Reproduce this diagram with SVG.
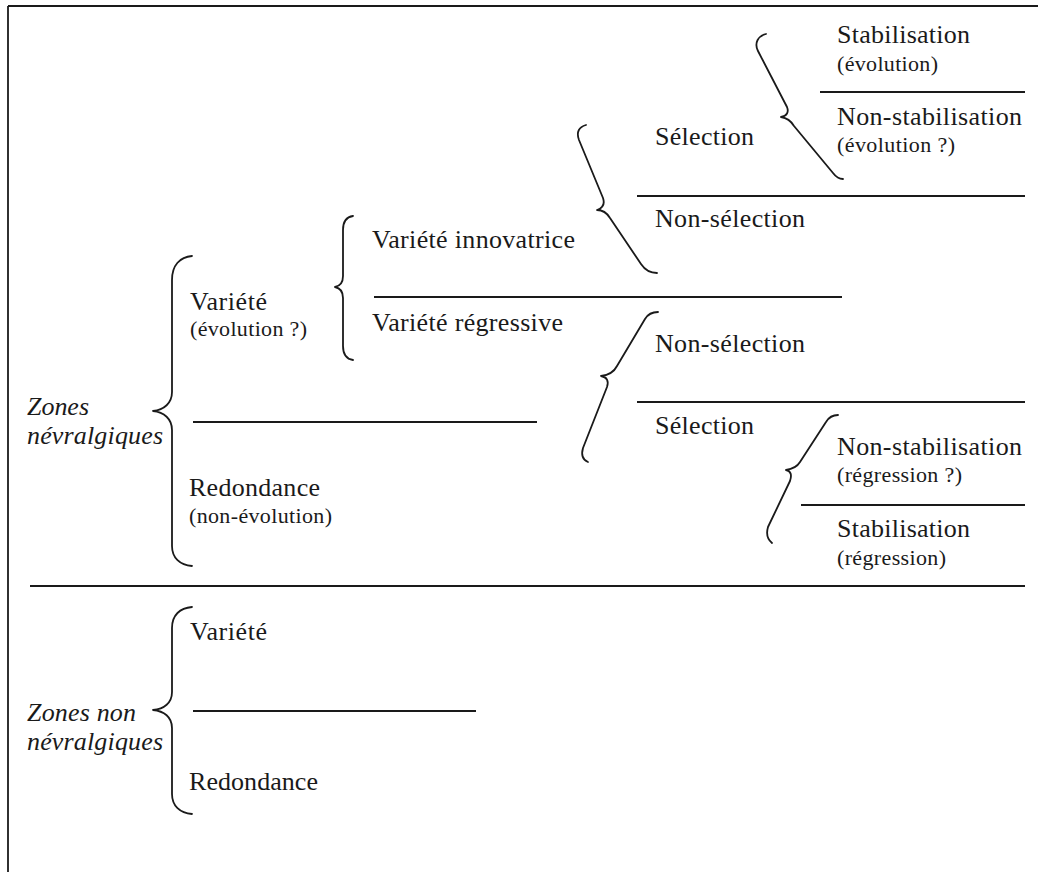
<svg xmlns="http://www.w3.org/2000/svg" width="1038" height="872" viewBox="0 0 1038 872">
<style>
text{font-family:'Liberation Serif','Tinos','Times New Roman','Times','Nimbus Roman','Nimbus Roman No9 L','FreeSerif','Noto Serif','DejaVu Serif',serif;fill:#1a1a1a}
.t{font-size:26px}
.s{font-size:22px}
.i{font-size:26px;font-style:italic}
.ln{stroke:#1a1a1a;stroke-width:1.8;fill:none}
.br{stroke:#1a1a1a;stroke-width:1.8;fill:none;stroke-linecap:round;stroke-linejoin:round}
</style>
<rect width="1038" height="872" fill="#ffffff"/>
<g id="frame">
<line class="ln" x1="8" y1="6" x2="1038" y2="6" stroke-width="2.2"/>
<line class="ln" x1="8" y1="6" x2="8" y2="872" stroke-width="1.6"/>
</g>
<g id="connectors">
<line class="ln" x1="820" y1="92" x2="1025" y2="92"/>
<line class="ln" x1="637" y1="196" x2="1025" y2="196"/>
<line class="ln" x1="374" y1="297" x2="842" y2="297"/>
<line class="ln" x1="637" y1="402" x2="1025" y2="402"/>
<line class="ln" x1="193" y1="422" x2="537" y2="422"/>
<line class="ln" x1="801" y1="505" x2="1025" y2="505"/>
<line class="ln" x1="30" y1="586" x2="1025" y2="586"/>
<line class="ln" x1="193" y1="711" x2="476" y2="711"/>
<path class="br" d="M192,256 C180,257 172,265 172,280 L172,392 C172,403 164,410 153,411 C164,412 172,419 172,430 L172,546 C172,558 180,565 192,566"/>
<path class="br" d="M353,216 C346,217 343,222 343,230 L343,276 C343,283 340,286 335,287 C340,288 343,291 343,298 L343,346 C343,354 346,359 353,360"/>
<path class="br" d="M192,607 C180,608 172,615 172,628 L172,692 C172,703 164,709 153,710 C164,711 172,717 172,728 L172,794 C172,806 180,813 192,814"/>
<path class="br" d="M766,34 C758,36 754,43 758,51 L787,107 C789,112 787,116 781,117 C787,118 791,121 794,126 L833,173 C836,177 839,179 843,179"/>
<path class="br" d="M586,125 C579,127 576,132 579,140 L603,198 C605,204 603,208 597,210 C603,210 607,213 610,218 L641,264 C645,270 650,273 657,273"/>
<path class="br" d="M658,312 C652,312 648,314 645,319 L617,366 C614,372 609,375 601,376 C607,377 609,381 607,387 L583,448 C581,455 583,460 588,462"/>
<path class="br" d="M838,415 C833,415 829,417 826,422 L800,462 C797,467 793,469 786,470 C791,471 792,475 790,481 L768,527 C766,534 767,539 772,543"/>
</g>
<g id="zones-nevralgiques"><text class="i" x="27" y="415" textLength="62">Zones</text><text class="i" x="27" y="444" textLength="136">névralgiques</text></g>
<g id="variete"><text class="t" x="190" y="310" textLength="77">Variété</text><text class="s" x="190" y="336" textLength="117">(évolution ?)</text></g>
<g id="redondance"><text class="t" x="189" y="496" textLength="131">Redondance</text><text class="s" x="189" y="523" textLength="143">(non-évolution)</text></g>
<g id="variete-innovatrice"><text class="t" x="372" y="248" textLength="203">Variété innovatrice</text></g>
<g id="variete-regressive"><text class="t" x="372" y="331" textLength="191">Variété régressive</text></g>
<g id="selection-1"><text class="t" x="655" y="145" textLength="99">Sélection</text></g>
<g id="non-selection-1"><text class="t" x="655" y="227" textLength="150">Non-sélection</text></g>
<g id="non-selection-2"><text class="t" x="655" y="352" textLength="150">Non-sélection</text></g>
<g id="selection-2"><text class="t" x="655" y="434" textLength="99">Sélection</text></g>
<g id="stabilisation-1"><text class="t" x="837" y="43" textLength="133">Stabilisation</text><text class="s" x="837" y="71" textLength="101">(évolution)</text></g>
<g id="non-stabilisation-1"><text class="t" x="837" y="125" textLength="185">Non-stabilisation</text><text class="s" x="837" y="152" textLength="118">(évolution ?)</text></g>
<g id="non-stabilisation-2"><text class="t" x="837" y="455" textLength="185">Non-stabilisation</text><text class="s" x="837" y="482" textLength="125">(régression ?)</text></g>
<g id="stabilisation-2"><text class="t" x="837" y="537" textLength="133">Stabilisation</text><text class="s" x="837" y="565" textLength="109">(régression)</text></g>
<g id="zones-non"><text class="i" x="27" y="721" textLength="109">Zones non</text><text class="i" x="27" y="750" textLength="136">névralgiques</text></g>
<g id="variete-b"><text class="t" x="190" y="640" textLength="77">Variété</text></g>
<g id="redondance-b"><text class="t" x="189" y="790" textLength="129">Redondance</text></g>
</svg>
